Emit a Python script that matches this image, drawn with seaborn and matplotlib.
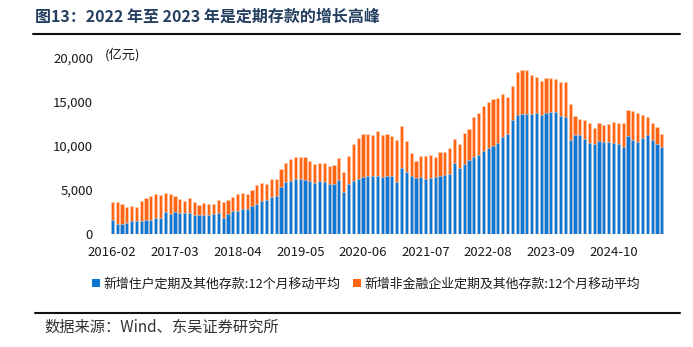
import matplotlib
matplotlib.use("Agg")
import matplotlib.pyplot as plt
import numpy as np
import pandas as pd
import seaborn as sns
from matplotlib.patches import Patch
from matplotlib.lines import Line2D
from matplotlib.ticker import FuncFormatter

# Monthly categories, 2016-02 .. 2025-08
months = [str(p) for p in pd.period_range("2016-02", "2025-08", freq="M")]

# 新增住户定期及其他存款 (12个月移动平均, 亿元)
household = [
    1590, 1170, 1100, 1270, 1450, 1450, 1480, 1550, 1630, 1820, 1800, 2540,
    2310, 2500, 2350, 2330, 2420, 2200, 2180, 2210, 2180, 2270, 2330, 1840,
    2270, 2650, 2670, 2800, 2880, 3220, 3460, 3770, 3920, 4150, 4360, 5380,
    5950, 6020, 6210, 6210, 6170, 6020, 5830, 6020, 5910, 5720, 5720, 6140,
    4810, 5640, 6060, 6290, 6480, 6590, 6590, 6590, 6480, 6590, 6610, 5950,
    7540, 7010, 6590, 6380, 6480, 6270, 6310, 6480, 6590, 6670, 6820, 8030,
    7520, 7970, 8450, 8730, 8940, 9450, 9810, 10000, 10320, 11000, 11380, 12950,
    13490, 13640, 13640, 13640, 13750, 13540, 13790, 13920, 13810, 13410, 13300, 10720,
    11210, 11230, 10810, 10380, 10250, 10590, 10470, 10440, 10360, 10210, 9870, 11140,
    10700, 10490, 10950, 11250, 10720, 10210, 9870,
]

# 新增非金融企业定期及其他存款 (12个月移动平均, 亿元)
enterprise = [
    2010, 2430, 2320, 1850, 1770, 1660, 2230, 2540, 2690, 2690, 2650, 2080,
    2200, 1860, 1590, 1460, 1630, 1400, 1080, 1270, 1210, 1100, 1500, 1780,
    1650, 1500, 1880, 1860, 1720, 1780, 2070, 1990, 1760, 2060, 1850, 1980,
    2080, 2500, 2500, 2500, 2540, 2280, 2160, 2090, 2160, 2010, 2160, 2500,
    2270, 3190, 4210, 4580, 4850, 4740, 4700, 5080, 4730, 4740, 4580, 4730,
    4750, 3520, 2600, 1920, 2380, 2580, 2630, 2250, 2730, 2650, 2950, 2800,
    2730, 3470, 3520, 4600, 4770, 5100, 5150, 5300, 5100, 4950, 4240, 3920,
    4960, 5050, 4960, 4480, 4090, 3810, 3990, 3780, 3860, 3840, 3970, 4030,
    2180, 1820, 2140, 2270, 1760, 1990, 1930, 2020, 2410, 2440, 2780, 2950,
    3240, 3240, 2610, 2050, 1860, 1910, 1460,
]

tick_labels = ["2016-02", "2017-03", "2018-04", "2019-05", "2020-06",
               "2021-07", "2022-08", "2023-09", "2024-10"]
y_ticks = [0, 5000, 10000, 15000, 20000]

series_names = ["新增住户定期及其他存款:12个月移动平均",
                "新增非金融企业定期及其他存款:12个月移动平均"]

BLUE = "#0B76D3"
ORANGE = "#FF6512"
TEXT = "#1a1a1a"

sns.set_theme(style="white")
plt.rcParams["font.family"] = ["Noto Sans CJK SC", "DejaVu Sans"]
plt.rcParams["axes.unicode_minus"] = False

df = pd.DataFrame({"month": months, "household": household, "enterprise": enterprise})
df["stack_top"] = df["household"] + df["enterprise"]

W, H = 693, 347
fig = plt.figure(figsize=(W / 100, H / 100), dpi=100)
ax = fig.add_axes([100 / W, 113 / H, 568 / W, 176 / H])

# stacked bars: full stack in orange, household part in blue on top of it
sns.barplot(data=df, x="month", y="stack_top", order=months, color=ORANGE,
            saturation=1, width=0.66, errorbar=None, ax=ax,
            edgecolor="#FFD2B8", linewidth=0.4)
sns.barplot(data=df, x="month", y="household", order=months, color=BLUE,
            saturation=1, width=0.66, errorbar=None, ax=ax,
            edgecolor="#B9D8F2", linewidth=0.4)

ax.set_xlim(-2.55, 115.3)
ax.set_ylim(0, 20000)
ax.set_xlabel("")
ax.set_ylabel("")
ax.set_xticks([months.index(t) for t in tick_labels])
ax.set_xticklabels(tick_labels)
ax.set_yticks(y_ticks)
ax.yaxis.set_major_formatter(FuncFormatter(lambda v, p: f"{v:,.0f}"))
ax.tick_params(axis="both", length=0, labelsize=9.5, colors=TEXT)
ax.tick_params(axis="x", pad=9)
ax.tick_params(axis="y", pad=5)
sns.despine(ax=ax, left=True, bottom=True)
ax.grid(False)

fig.text(105 / W, 1 - 55 / H, "(亿元)", fontsize=9.5, color=TEXT,
         ha="left", va="center")

# title and rules
fig.text(35 / W, 1 - 17 / H, "图13：2022 年至 2023 年是定期存款的增长高峰",
         fontsize=11.5, fontweight="bold", color="#243F60", ha="left", va="center")
fig.add_artist(Line2D([33 / W, 680 / W], [1 - 34 / H, 1 - 34 / H],
                      color="#111111", linewidth=1.5))
fig.add_artist(Line2D([35 / W, 680 / W], [1 - 313 / H, 1 - 313 / H],
                      color="#111111", linewidth=1.5))

# legend
handles = [Patch(facecolor=BLUE, edgecolor="none"),
           Patch(facecolor=ORANGE, edgecolor="none")]
fig.legend(handles, series_names, loc="center", bbox_to_anchor=(366 / W, 1 - 284 / H),
           ncol=2, frameon=False, fontsize=9.3, handlelength=0.6, handleheight=0.6,
           handletextpad=0.25, columnspacing=1.0, labelcolor=TEXT)

fig.text(44 / W, 1 - 327 / H, "数据来源：Wind、东吴证券研究所", fontsize=11,
         color="#333333", ha="left", va="center")

fig.savefig("out.png", dpi=100)
